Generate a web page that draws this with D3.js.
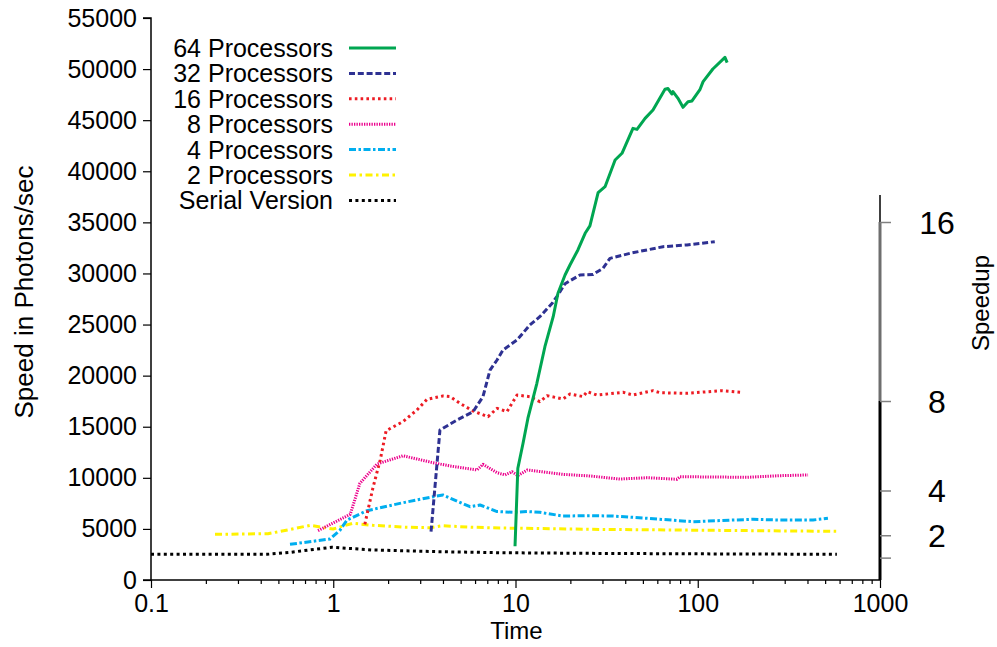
<!DOCTYPE html>
<html>
<head>
<meta charset="utf-8">
<script src="https://cdn.jsdelivr.net/npm/d3@7"></script>
<style>
  html, body { margin: 0; padding: 0; background: #fff; }
  svg text { font-family: "Liberation Sans", Arial, sans-serif; fill: #000; }
</style>
</head>
<body>
<svg id="chart" width="997" height="647"></svg>
<script>
// Time (s) and speed (photons/sec) for each processor count
const time64 = [9.94, 10.3, 11.0, 11.7, 13.1, 14.5, 16.1, 17.1, 18.7, 19.9, 22.0, 24.1, 25.6, 28.4, 31.0, 35.2, 38.4, 44.1, 46.4, 51.4, 56.8, 66.1, 68.7, 72.2, 73.1, 77.9, 83.0, 88.4, 93.0, 103, 107, 121, 141, 145];
const speed64 = [3300, 10930, 13380, 15830, 19250, 22830, 25770, 28060, 29850, 30830, 32300, 33930, 34650, 37900, 38490, 41100, 41760, 44200, 44100, 45180, 45990, 48020, 48100, 47560, 47800, 47140, 46260, 46810, 46880, 48020, 48770, 50010, 51150, 50630];

const time32 = [3.44, 3.85, 4.78, 5.85, 6.63, 7.25, 7.92, 8.54, 10.2, 12.0, 13.6, 15.9, 17.1, 18.7, 22.6, 26.6, 30.2, 33.0, 42.5, 64.5, 87.3, 124];
const speed32 = [4730, 14680, 15660, 16470, 17940, 20550, 21530, 22510, 23490, 24960, 25770, 27080, 27900, 29000, 29850, 29900, 30500, 31480, 31970, 32620, 32790, 33110];

const time16 = [1.49, 1.65, 1.81, 1.95, 2.41, 2.88, 3.27, 4.00, 4.37, 4.96, 5.85, 7.07, 7.92, 8.98, 10.2, 12.0, 13.6, 14.9, 18.2, 19.9, 23.5, 24.7, 28.0, 38.9, 44.1, 56.8, 62.1, 87.3, 136, 175];
const speed16 = [5450, 9000, 11740, 14610, 15490, 16640, 17680, 18010, 17950, 17290, 16540, 15980, 16800, 16480, 18100, 17940, 17450, 18040, 17710, 18200, 17950, 18430, 18100, 18370, 18100, 18530, 18330, 18270, 18530, 18370];

const time8 = [0.825, 1.24, 1.40, 1.74, 2.41, 3.53, 4.37, 6.15, 6.63, 7.92, 8.76, 9.57, 10.3, 11.6, 18.2, 25.6, 37.4, 52.7, 76.9, 79.9, 186, 283, 403];
const speed8 = [4830, 6430, 9460, 11350, 12160, 11480, 11160, 10770, 11320, 10500, 10280, 10600, 10210, 10770, 10340, 10180, 9880, 10010, 9860, 10110, 10050, 10210, 10280];

const time4 = [0.579, 0.960, 1.09, 1.19, 1.53, 2.32, 3.53, 4.00, 5.63, 6.39, 7.92, 9.69, 11.6, 13.6, 18.2, 25.6, 34.3, 52.7, 94.2, 156, 201, 283, 429, 518];
const speed4 = [3490, 4010, 4890, 5870, 6780, 7500, 8150, 8320, 7170, 7340, 6700, 6620, 6700, 6620, 6260, 6300, 6260, 6040, 5705, 5870, 5940, 5870, 5870, 6040];

const time2 = [0.2245, 0.438, 0.579, 0.746, 0.997, 1.28, 1.65, 2.54, 3.40, 3.95, 5.85, 8.22, 29.1, 79.9, 580];
const speed2 = [4470, 4530, 4940, 5350, 4990, 5550, 5350, 5160, 5120, 5310, 5160, 5090, 4950, 4890, 4760];

const timeSerial = [0.1, 0.433, 0.579, 0.746, 0.984, 1.65, 3.85, 8.22, 29.1, 103, 580];
const speedSerial = [2515, 2515, 2700, 2950, 3200, 2936, 2770, 2672, 2600, 2560, 2515];

const seriesNames = ["64 Processors", "32 Processors", "16 Processors", "8 Processors", "4 Processors", "2 Processors", "Serial Version"];
const speedTicks = [0, 5000, 10000, 15000, 20000, 25000, 30000, 35000, 40000, 45000, 50000, 55000];
const timeTicks = [0.1, 1, 10, 100, 1000];
const speedupTicks = [1, 2, 4, 8, 16];
const speedupLabels = [2, 4, 8, 16];

const series = [
  { name: seriesNames[6], t: timeSerial, v: speedSerial, color: "#000000", dash: "3,3.4", width: 3 },
  { name: seriesNames[5], t: time2, v: speed2, color: "#fff200", dash: "7,3.5,2.5,3.5", width: 3 },
  { name: seriesNames[4], t: time4, v: speed4, color: "#00aeef", dash: "7,2.5,2.5,2.5", width: 3 },
  { name: seriesNames[3], t: time8, v: speed8, color: "#ec008c", dash: "1.3,1.2", width: 3 },
  { name: seriesNames[2], t: time16, v: speed16, color: "#ed1c24", dash: "2.6,3.2", width: 3 },
  { name: seriesNames[1], t: time32, v: speed32, color: "#2e3192", dash: "6,2.8", width: 3 },
  { name: seriesNames[0], t: time64, v: speed64, color: "#00a651", dash: null, width: 3 }
];

const svg = d3.select("#chart");
const plotLeft = 151, plotRight = 880, plotTop = 18, plotBottom = 580;

const x = d3.scaleLog().domain([0.1, 1000]).range([plotLeft, plotRight]);
const y = d3.scaleLinear().domain([0, 55000]).range([plotBottom, plotTop]);
const ySpeedup = d3.scaleLinear().domain([0, 16]).range([plotBottom, 222]);

// Left axis
const yAxis = d3.axisLeft(y).tickValues(speedTicks).tickSize(8).tickPadding(6).tickFormat(d3.format("d"));
const gy = svg.append("g").attr("transform", `translate(${plotLeft},0)`).call(yAxis);
gy.select(".domain").attr("stroke", "#000").attr("stroke-width", 1.5).attr("d", `M-8,${plotTop}H0V${plotBottom}H-8`);
gy.selectAll(".tick line").attr("stroke", "#000").attr("stroke-width", 1.2);
gy.selectAll(".tick text").style("font-size", "25px").attr("font-family", null);

// Bottom axis: decades labelled, minor ticks in between
const minor = [];
for (let d = 0.1; d < 1000; d *= 10) for (let k = 2; k <= 9; k++) minor.push(d * k);
const gxMinor = svg.append("g").attr("transform", `translate(0,${plotBottom})`)
  .call(d3.axisBottom(x).tickValues(minor).tickSize(4).tickFormat(""));
gxMinor.select(".domain").remove();
gxMinor.selectAll(".tick line").attr("stroke", "#000").attr("stroke-width", 1.2);
const gx = svg.append("g").attr("transform", `translate(0,${plotBottom})`)
  .call(d3.axisBottom(x).tickValues(timeTicks).tickSize(8).tickPadding(6).tickFormat(d => String(d)));
gx.select(".domain").attr("stroke", "#000").attr("stroke-width", 1.5).attr("d", `M${plotLeft},0H${plotRight}`);
gx.selectAll(".tick line").attr("stroke", "#000").attr("stroke-width", 1.2);
gx.selectAll(".tick text").style("font-size", "25px").attr("font-family", null);

// Right speedup axis
svg.append("line").attr("x1", plotRight).attr("x2", plotRight).attr("y1", 195).attr("y2", ySpeedup(16))
  .attr("stroke", "#000").attr("stroke-width", 1.5);
svg.append("line").attr("x1", plotRight).attr("x2", plotRight).attr("y1", ySpeedup(16)).attr("y2", ySpeedup(8))
  .attr("stroke", "#6e6e6e").attr("stroke-width", 3);
svg.append("line").attr("x1", plotRight).attr("x2", plotRight).attr("y1", ySpeedup(8)).attr("y2", plotBottom)
  .attr("stroke", "#000").attr("stroke-width", 3);
const gr = svg.append("g").attr("transform", `translate(${plotRight},0)`)
  .call(d3.axisRight(ySpeedup).tickValues(speedupTicks).tickSize(11).tickFormat(""));
gr.select(".domain").remove();
gr.selectAll(".tick line").attr("stroke", "#808080").attr("stroke-width", 1.5);
svg.append("g").selectAll("text").data(speedupLabels).join("text")
  .attr("x", 937).attr("y", d => ySpeedup(d)).attr("dy", "0.36em")
  .attr("text-anchor", "middle").style("font-size", "32px").text(d => d);

// Axis titles
svg.append("text").attr("x", plotLeft + (plotRight - plotLeft) / 2 + 1).attr("y", 639)
  .attr("text-anchor", "middle").style("font-size", "24px").text("Time");
svg.append("text").attr("transform", "translate(33,292) rotate(-90)")
  .attr("text-anchor", "middle").style("font-size", "26px").text("Speed in Photons/sec");
svg.append("text").attr("transform", "translate(989,303) rotate(-90)")
  .attr("text-anchor", "middle").style("font-size", "24px").text("Speedup");

// Data lines
const line = d3.line().x(d => x(d[0])).y(d => y(d[1]));
svg.append("g").selectAll("path").data(series).join("path")
  .attr("d", s => line(s.t.map((t, i) => [t, s.v[i]])))
  .attr("fill", "none")
  .attr("stroke", s => s.color)
  .attr("stroke-width", s => s.width)
  .attr("stroke-dasharray", s => s.dash)
  .attr("stroke-linejoin", "round");

// Legend
const legendOrder = series.slice().reverse();
const lg = svg.append("g").selectAll("g").data(legendOrder).join("g")
  .attr("transform", (d, i) => `translate(0,${48 + i * 25.4})`);
lg.append("text").attr("x", 333).attr("dy", "0.36em").attr("text-anchor", "end")
  .style("font-size", "25px").text(d => d.name);
lg.append("line").attr("x1", 349).attr("x2", 396).attr("y1", 0).attr("y2", 0)
  .attr("stroke", d => d.color).attr("stroke-width", d => d.width)
  .attr("stroke-dasharray", d => d.dash);
</script>
</body>
</html>
